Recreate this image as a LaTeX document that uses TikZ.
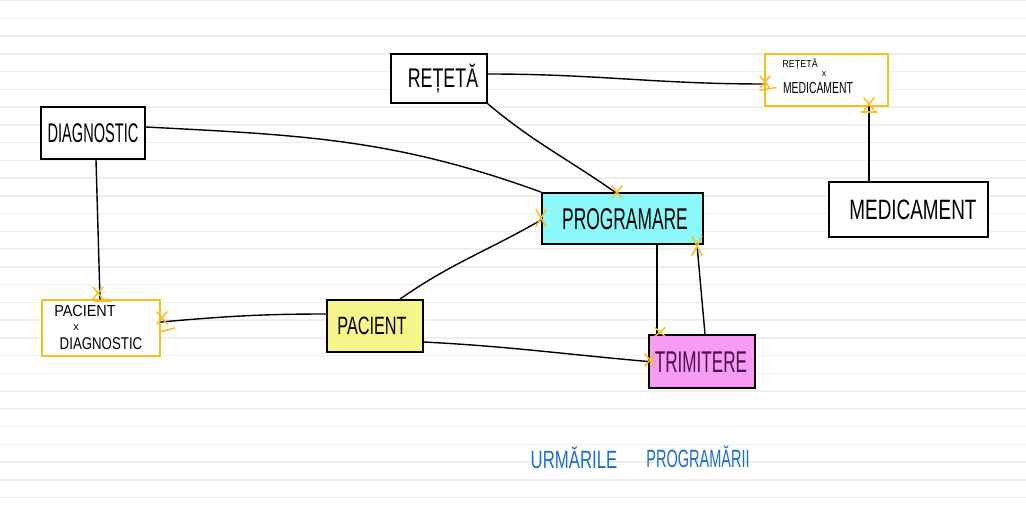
\documentclass[tikz,border=0pt]{standalone}
\usepackage{fontspec}
\setmainfont{Liberation Sans}
\usepackage{graphicx}
\definecolor{orangeM}{HTML}{FBBC1E}
\definecolor{cyanF}{HTML}{8CF8F9}
\definecolor{yellowF}{HTML}{F6F58A}
\definecolor{pinkF}{HTML}{F79BF5}
\definecolor{blueT}{HTML}{1B6FCB}
\definecolor{ruleC}{HTML}{EFEFEF}
\definecolor{purpleT}{HTML}{4A1248}
\newcommand\hw[3]{{\fontsize{#2}{#2}\selectfont\scalebox{#1}[1]{#3}}}
\tikzset{
  ent/.style={draw=black, line width=1.8pt, inner sep=0pt, fill=white},
  assoc/.style={draw=orangeM, line width=1.6pt, inner sep=0pt, fill=white},
  conn/.style={draw=black, line width=1.4pt, line cap=round},
  lbl/.style={inner sep=0pt, anchor=center},
  mk/.style={draw=orangeM, line width=1.5pt, line cap=round},
  rule/.style={draw=ruleC, line width=1.5pt},
  xm/.pic={\draw[mk] (-5,-6)--(5,6) (-5,6)--(5,-6);},
  barm/.pic={\draw[mk] (-8,0)--(8,0);}
}
\begin{document}
\begin{tikzpicture}[x=1pt,y=1pt]
\useasboundingbox (0,0) rectangle (1026,-513);
\fill[white] (0,0) rectangle (1026,-513);
\foreach \k in {0,...,28} \draw[rule] (0,-\k*17.75-0.7) -- (1026,-\k*17.75-0.7);

% entity boxes
\node[ent, minimum width=96pt, minimum height=49pt] (ret) at (439,-78.5) {};
\node[assoc, minimum width=123pt, minimum height=52pt] (rxm) at (826.5,-80) {};
\node[ent, minimum width=104pt, minimum height=52pt] (diag) at (93,-133) {};
\node[ent, fill=cyanF, minimum width=161pt, minimum height=51pt] (prog) at (622.5,-218.5) {};
\node[ent, minimum width=159pt, minimum height=55pt] (med) at (908.5,-209.5) {};
\node[assoc, minimum width=118pt, minimum height=56pt] (pxd) at (101,-328) {};
\node[ent, fill=yellowF, minimum width=96pt, minimum height=52pt] (pac) at (375,-326) {};
\node[ent, fill=pinkF, minimum width=106pt, minimum height=53pt] (trim) at (702,-361.5) {};

% labels
\node[lbl] (tret) at (443,-79) {\hw{0.66}{27}{REȚETĂ}};
\node[lbl] (tdiag) at (93,-133) {\hw{0.54}{27}{DIAGNOSTIC}};
\node[lbl] (tprog) at (625,-219) {\hw{0.58}{30}{PROGRAMARE}};
\node[lbl] (tmed) at (913,-210) {\hw{0.675}{28}{MEDICAMENT}};
\node[lbl] (tpac) at (372,-326) {\hw{0.65}{25}{PACIENT}};
\node[lbl, text=purpleT] (ttrim) at (701,-362) {\hw{0.57}{30}{TRIMITERE}};
\node[lbl] (trxm1) at (800,-64) {\hw{0.9}{10}{REȚETĂ}};
\node[lbl] (trxm2) at (824,-74) {\hw{1}{9}{x}};
\node[lbl] (trxm3) at (818,-88) {\hw{0.65}{16}{MEDICAMENT}};
\node[lbl] (tpxd1) at (85,-311) {\hw{0.9}{16}{PACIENT}};
\node[lbl] (tpxd2) at (76,-327.5) {\hw{1}{11}{x}};
\node[lbl] (tpxd3) at (101,-344) {\hw{0.78}{17}{DIAGNOSTIC}};
\node[lbl, text=blueT] (turm) at (574,-458) {\hw{0.67}{25}{URMĂRILE}};
\node[lbl, text=blueT] (tpgr) at (698,-457) {\hw{0.58}{25}{PROGRAMĂRII}};

% connectors
\draw[conn] ([yshift=4.5pt]ret.east) to[out=0,in=180] ([yshift=-4pt]rxm.west);
\draw[conn] (ret.south east) to[out=-40,in=145] ([xshift=-7.5pt]prog.north);
\draw[conn] ([yshift=6pt]diag.east) to[out=-3,in=160] (prog.north west);
\draw[conn] ([xshift=25pt]pac.north) to[out=35,in=210] ([yshift=-1.5pt]prog.west);
\draw[conn] ([xshift=-39.5pt]med.north) to ([xshift=42.5pt]rxm.south);
\draw[conn] ([xshift=3pt]diag.south) to ([xshift=-1pt]pxd.north);
\draw[conn] ([yshift=12pt]pac.west) to[out=180,in=5] ([yshift=6pt]pxd.east);
\draw[conn] ([yshift=-16pt]pac.east) to[out=-3,in=175] (trim.west);
\draw[conn] ([xshift=34.5pt]prog.south) to ([xshift=-45pt]trim.north);
\draw[conn] ([xshift=3pt]trim.north) to ([xshift=74.5pt]prog.south);

% orange marks
\pic at (765,-82) {xm};
\pic[rotate=10] at (768,-89) {barm};
\pic at (617,-192) {xm};
\pic[yscale=1.4] at (541,-218) {xm};
\pic at (869,-104) {xm};
\pic at (869,-112) {barm};
\pic at (98,-293) {xm};
\pic at (103,-301) {barm};
\pic at (162,-318) {xm};
\pic[rotate=15] at (167,-330) {barm};
\pic at (650,-360) {xm};
\pic[yscale=0.7] at (660,-332) {xm};
\pic[yscale=1.6] at (697,-246) {xm};
\end{tikzpicture}
\end{document}
